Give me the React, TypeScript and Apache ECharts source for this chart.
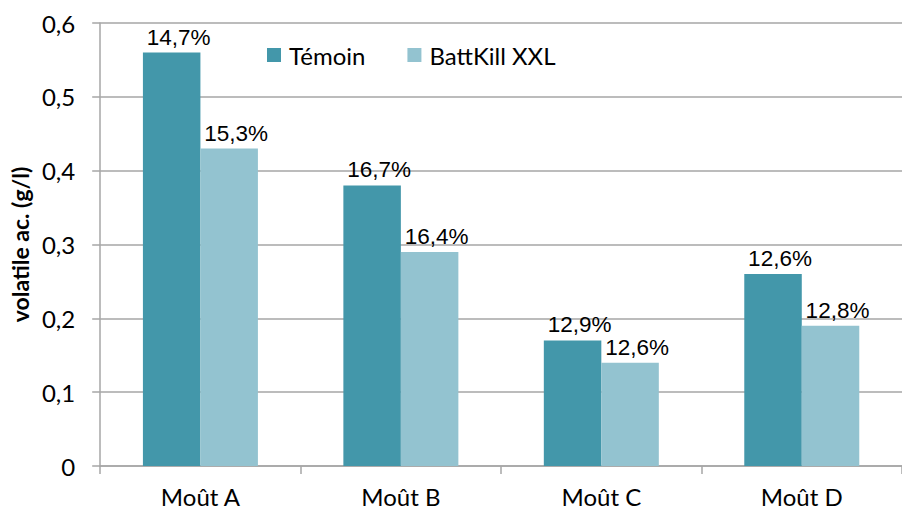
import React, { useEffect, useRef } from "react";
import * as echarts from "echarts";

const categories = ["Moût A", "Moût B", "Moût C", "Moût D"];
const temoinValues = [0.56, 0.38, 0.17, 0.26];
const battkillValues = [0.43, 0.29, 0.14, 0.19];
const temoinLabels = ["14,7%", "16,7%", "12,9%", "12,6%"];
const battkillLabels = ["15,3%", "16,4%", "12,6%", "12,8%"];
const seriesNames = ["Témoin", "BattKill XXL"];
const yTitle = "volatile ac. (g/l)";

const CAL = "Lato, 'Open Sans', sans-serif";
const ARIAL = "'Liberation Sans', Arial, sans-serif";
const GRID_COLOR = "#A6A6A6";

export default function App() {
  const ref = useRef<HTMLDivElement>(null);
  useEffect(() => {
    if (!ref.current) return;
    const chart = echarts.init(ref.current, null, { renderer: "svg" });
    const labelStyle = (arr: string[]) => ({
      show: true,
      position: "top",
      distance: 4,
      offset: [7, 0],
      fontFamily: ARIAL,
      fontSize: 22.5,
      color: "#000",
      formatter: (p: any) => arr[p.dataIndex],
    });
    chart.setOption({
      animation: false,
      backgroundColor: "#fff",
      grid: { left: 98, top: 23, width: 810, height: 443 },
      legend: {
        data: seriesNames,
        left: 267,
        top: 43,
        padding: 0,
        icon: "rect",
        itemWidth: 14,
        itemHeight: 14,
        itemGap: 42,
        textStyle: { fontFamily: CAL, fontSize: 24, color: "#000", padding: [0, 0, 0, 3] },
      },
      xAxis: {
        type: "category",
        data: categories,
        axisLine: { lineStyle: { color: GRID_COLOR, width: 1.5 } },
        axisTick: { show: true, length: 8, lineStyle: { color: GRID_COLOR, width: 1.5 } },
        axisLabel: { fontFamily: CAL, fontSize: 24, color: "#000", margin: 18 },
      },
      yAxis: {
        type: "value",
        min: 0,
        max: 0.6,
        interval: 0.1,
        name: yTitle,
        nameLocation: "middle",
        nameRotate: 90,
        nameGap: 66,
        nameTextStyle: { fontFamily: CAL, fontSize: 23, fontWeight: "bold", color: "#000" },
        axisLine: { show: true, lineStyle: { color: GRID_COLOR, width: 1.5 } },
        axisTick: { show: true, length: 8, lineStyle: { color: GRID_COLOR, width: 1.5 } },
        splitLine: { lineStyle: { color: GRID_COLOR, width: 1.5 } },
        axisLabel: {
          fontFamily: CAL,
          fontSize: 24,
          color: "#000",
          margin: 25,
          formatter: (v: number) => (Math.round(v * 10) / 10).toString().replace(".", ","),
        },
      },
      series: [
        {
          name: seriesNames[0],
          type: "bar",
          data: temoinValues,
          barWidth: 57.5,
          barGap: "0%",
          itemStyle: { color: "#4397AA" },
          label: labelStyle(temoinLabels),
        },
        {
          name: seriesNames[1],
          type: "bar",
          data: battkillValues,
          barWidth: 57.5,
          barGap: "0%",
          itemStyle: { color: "#93C3D0" },
          label: labelStyle(battkillLabels),
        },
      ],
    });
    return () => chart.dispose();
  }, []);
  return (
    <div
      ref={ref}
      style={{ position: "fixed", left: 0, top: 0, width: 902, height: 510, background: "#fff" }}
    />
  );
}
